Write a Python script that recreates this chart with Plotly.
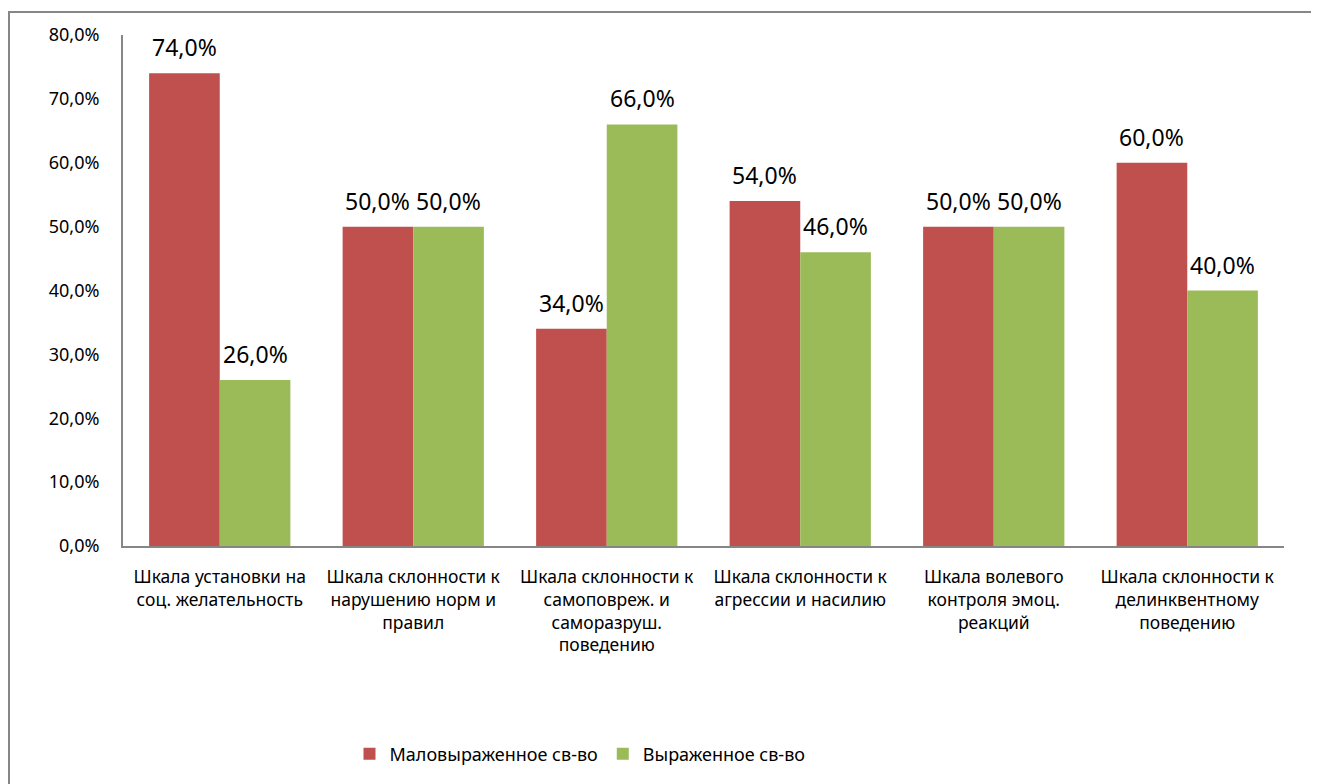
import plotly.graph_objects as go

categories = [
    "Шкала установки на<br>соц. желательность",
    "Шкала склонности к<br>нарушению норм и<br>правил",
    "Шкала склонности к<br>самоповреж. и<br>саморазруш.<br>поведению",
    "Шкала склонности к<br>агрессии и насилию",
    "Шкала волевого<br>контроля эмоц.<br>реакций",
    "Шкала склонности к<br>делинквентному<br>поведению",
]
low_values = [74.0, 50.0, 34.0, 54.0, 50.0, 60.0]
high_values = [26.0, 50.0, 66.0, 46.0, 50.0, 40.0]
series_names = ["Маловыраженное св-во", "Выраженное св-во"]
y_ticks = [0, 10, 20, 30, 40, 50, 60, 70, 80]
y_tick_labels = [f"{v:.1f}%".replace(".", ",") for v in y_ticks]

FONT = "Noto Sans"
RED = "#C0504D"
GREEN = "#9BBB59"
BARGAP = 0.27

def fmt(v):
    return f"{v:.1f}%".replace(".", ",")

# page body has an 8px margin; compensate so the figure lands on the window grid
OFF = 8
W, H = 1319 - OFF, 784 - OFF
L, R, T, B = 115, 35, 27, 238
pw = W - L - R
ph = H - T - B

def px_x(p):
    return (p - OFF - L) / pw

def px_y(p):
    return (H - B - (p - OFF)) / ph

fig = go.Figure()
for name, vals, col in [(series_names[0], low_values, RED), (series_names[1], high_values, GREEN)]:
    fig.add_trace(go.Bar(
        x=categories, y=vals, name=name,
        marker=dict(color=col, line=dict(width=0)),
    ))

bar_w = pw / len(categories) * (1 - BARGAP) / 2
annotations = []
for vals, sign in [(low_values, -1), (high_values, 1)]:
    for c, v in zip(categories, vals):
        annotations.append(dict(
            x=c, y=v, xref="x", yref="y", text=fmt(v), showarrow=False,
            xshift=sign * bar_w / 2, yshift=26, yanchor="middle",
            font=dict(size=23, family=FONT, color="#000000"),
        ))

fig.update_layout(
    width=W, height=H,
    margin=dict(l=L, r=R, t=T, b=B),
    paper_bgcolor="white", plot_bgcolor="white",
    barmode="group", bargap=BARGAP, bargroupgap=0,
    font=dict(family=FONT, color="#000000"),
    showlegend=True,
    legend=dict(
        orientation="h", x=px_x(580), xanchor="center",
        y=px_y(754), yanchor="middle",
        font=dict(size=18, family=FONT),
        itemsizing="constant",
    ),
    xaxis=dict(
        showline=True, linecolor="#868686", linewidth=2,
        ticks="", showgrid=False,
        tickfont=dict(size=17.5, family=FONT),
        tickangle=0, ticklabelstandoff=14,
    ),
    yaxis=dict(
        range=[0, 80], showline=True, linecolor="#868686", linewidth=2,
        tickvals=y_ticks, ticktext=y_tick_labels,
        showgrid=False, zeroline=False, ticks="",
        tickfont=dict(size=18, family=FONT),
        ticklabelstandoff=18,
    ),
    annotations=annotations,
    shapes=[dict(
        type="rect", xref="paper", yref="paper",
        x0=px_x(9), x1=px_x(1400), y0=px_y(900), y1=px_y(12),
        line=dict(color="#868686", width=2), fillcolor="rgba(0,0,0,0)",
        layer="below",
    )],
)

fig.write_html("out.html")
